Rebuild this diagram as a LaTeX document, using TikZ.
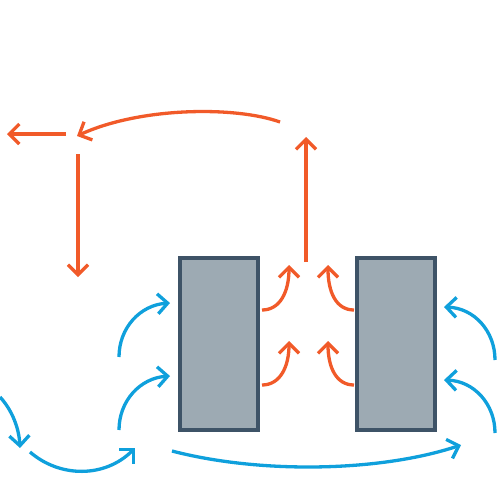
\documentclass[tikz,border=0pt]{standalone}
\usetikzlibrary{arrows.meta}
\definecolor{hot}{HTML}{F15A29}
\definecolor{cool}{HTML}{0FA0DC}
\definecolor{slab}{HTML}{9DAAB3}
\definecolor{slabedge}{HTML}{3E5367}
\tikzset{
  hotarrow/.style={draw=hot, line width=3.3pt, -{Straight Barb[length=10pt,width=20pt,line width=3.3pt]}},
  coolarrow/.style={draw=cool, line width=3.3pt, -{Straight Barb[length=10pt,width=20pt,line width=3.3pt]}},
  panel/.style={draw=slabedge, fill=slab, line width=4pt, minimum width=78pt, minimum height=172pt, inner sep=0pt}
}
\begin{document}
\begin{tikzpicture}[x=1pt,y=-1pt]
\useasboundingbox (0,0) rectangle (500,500);
% panels
\node[panel] (L) at (219,344) {};
\node[panel] (R) at (396,344) {};
% orange top arrows
\coordinate (hs) at (306,262);
\coordinate (ht) at (306,137);
\draw[hotarrow] (hs) -- (ht);
\coordinate (cs) at (280,122);
\coordinate (ce) at (77,136);
\draw[hotarrow] (cs) .. controls (235,106) and (140,107) .. (ce);
\coordinate (js) at (66,134);
\coordinate (je) at (7,134);
\draw[hotarrow] (js) -- (je);
\coordinate (ds) at (78,154);
\coordinate (de) at (78,277);
\draw[hotarrow] (ds) -- (de);
% small orange
\draw[hotarrow] (262,310) .. controls (280,310) and (289,292) .. (289,265);
\draw[hotarrow] (262,385) .. controls (280,385) and (289,367) .. (289,341);
\draw[hotarrow] (354,310) .. controls (336,310) and (328,292) .. (328,265);
\draw[hotarrow] (354,385) .. controls (336,385) and (328,367) .. (328,341);
% blue side arrows
\draw[coolarrow] (119,357) .. controls (119,328) and (140,305) .. (170,303);
\draw[coolarrow] (119,430) .. controls (119,401) and (140,378) .. (170,376);
\draw[coolarrow] (495,360) .. controls (495,331) and (474,308) .. (444,307);
\draw[coolarrow] (495,433) .. controls (495,404) and (474,381) .. (444,380);
% blue bottom
\draw[coolarrow] (172,451) .. controls (260,474) and (380,472) .. (461,445);
\draw[coolarrow] (0,397) .. controls (12,410) and (19,428) .. (20,448);
\draw[coolarrow] (30,452) .. controls (60,478) and (105,478) .. (135,448);
\end{tikzpicture}
\end{document}
